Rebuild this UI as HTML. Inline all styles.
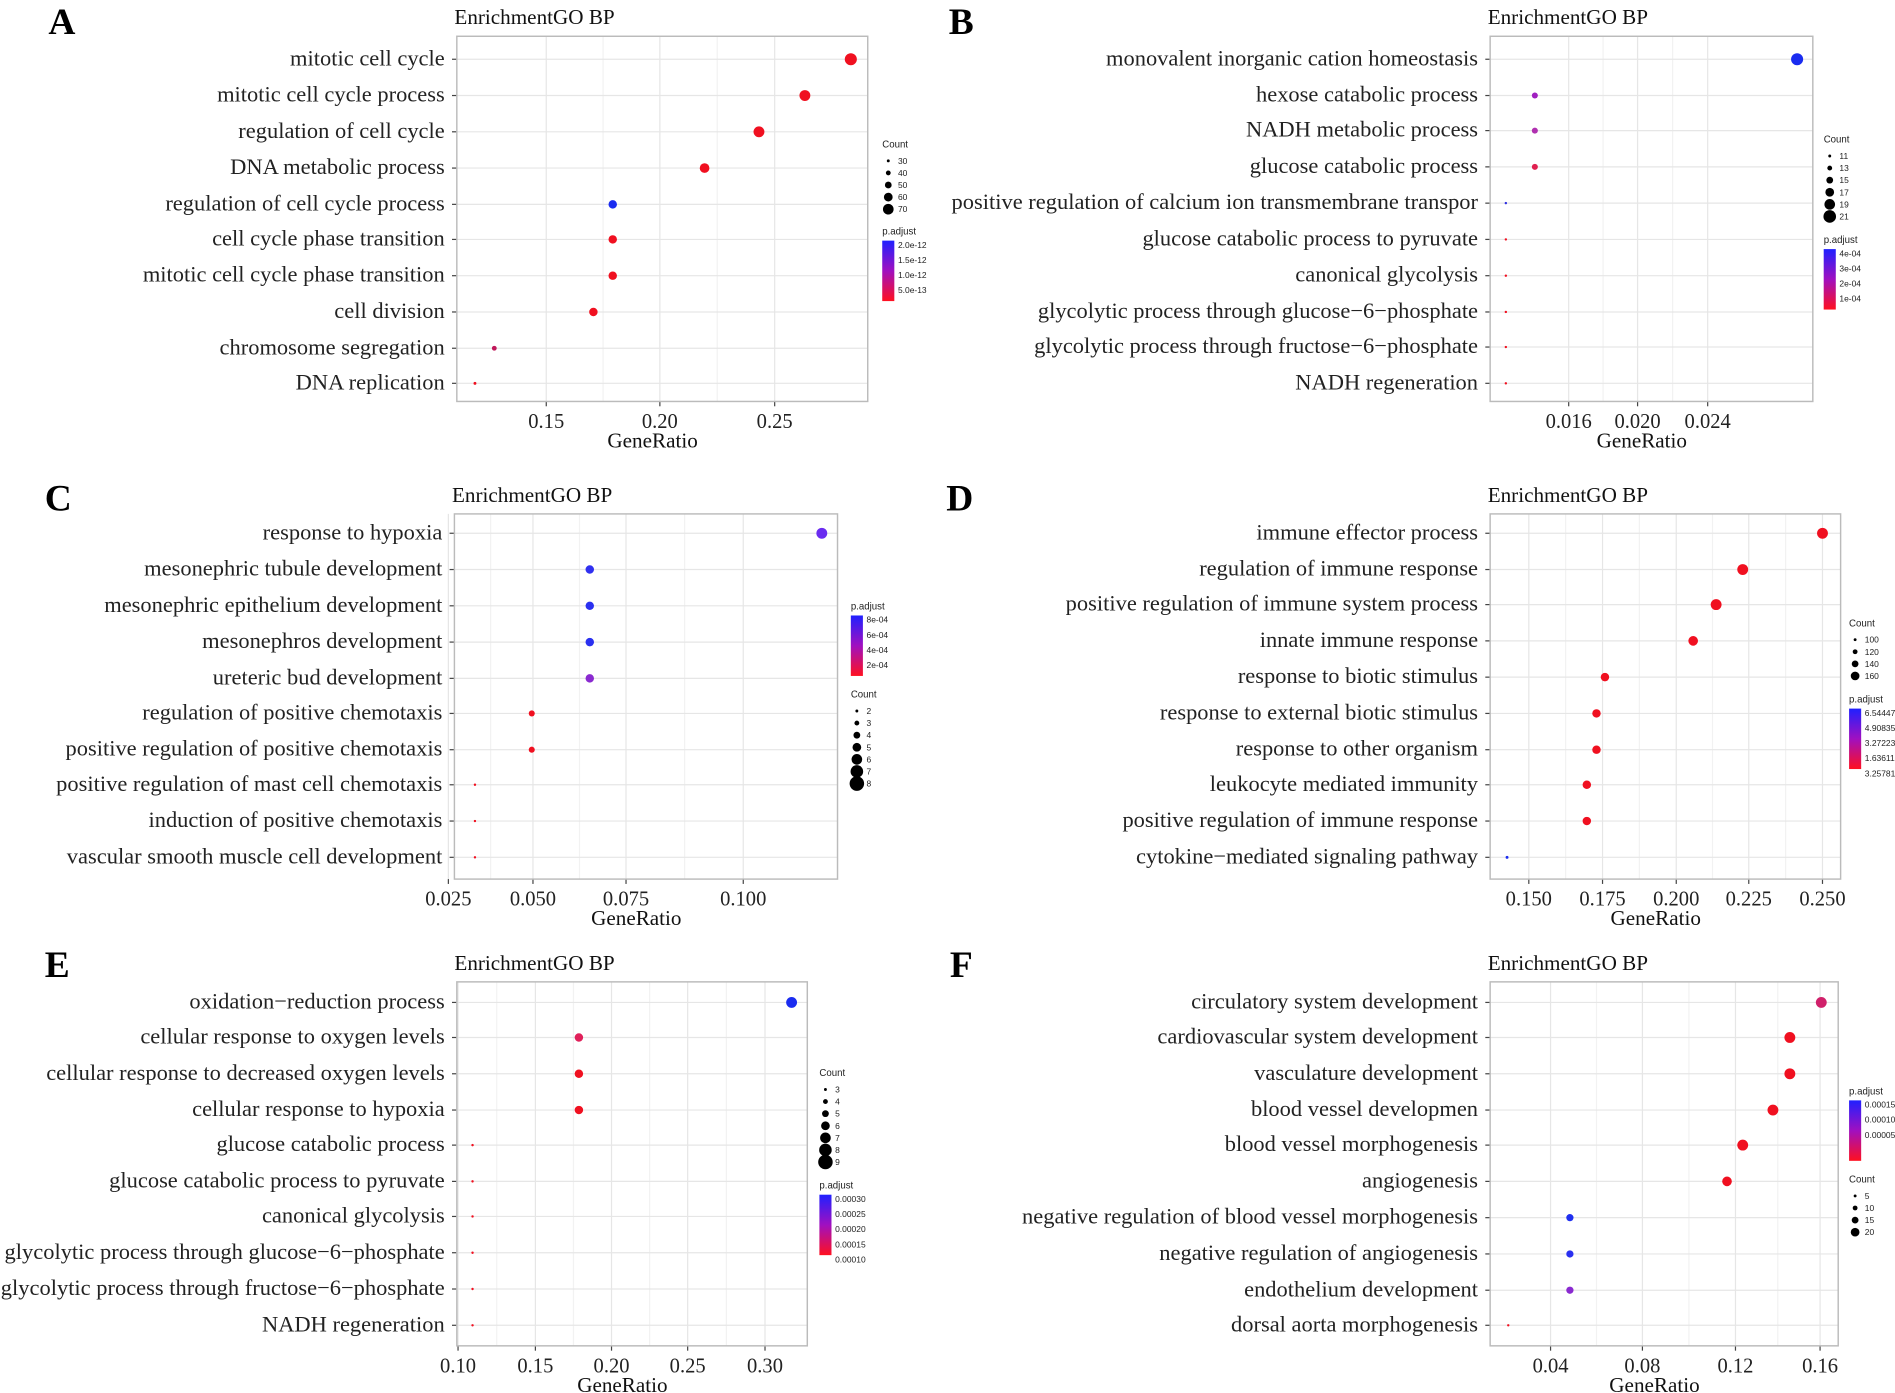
<!DOCTYPE html>
<html><head><meta charset="utf-8"><style>
html,body{margin:0;padding:0;background:#fff;width:1895px;height:1393px;overflow:hidden}
svg{display:block}
.lab{font-family:"Liberation Serif",serif;font-size:18.6px;fill:#222}
.tk{font-family:"Liberation Serif",serif;font-size:17px;fill:#222}
.tt{font-family:"Liberation Serif",serif;font-size:17.5px;fill:#111}
.big{font-family:"Liberation Serif",serif;font-size:31px;font-weight:bold;fill:#000}
.lg{font-family:"Liberation Sans",sans-serif;font-size:7px;fill:#222}
.lgt{font-family:"Liberation Sans",sans-serif;font-size:8px;fill:#222}
</style></head><body>
<svg id="s" width="1895" height="1393" viewBox="0 0 1568 1152" preserveAspectRatio="none" xmlns="http://www.w3.org/2000/svg">
<defs><linearGradient id="g" x1="0" y1="0" x2="0" y2="1"><stop offset="0" stop-color="#2020ff"/><stop offset="0.5" stop-color="#a010c0"/><stop offset="1" stop-color="#ff1020"/></linearGradient></defs>
</svg>
<script>
const S=document.getElementById('s');let h='';
function P(o){
 const [x0,x1,y0,y1]=o.box;
 h+=`<text class="tt" x="${x0-2}" y="${y0-10}">EnrichmentGO BP</text>`;
 h+=`<text class="big" x="${o.L[0]}" y="${o.L[1]}">${o.L[2]}</text>`;
 for(let i=0;i<o.ticks.length;i++){const t=o.ticks[i];h+=`<line x1="${t[0]}" x2="${t[0]}" y1="${y0}" y2="${y1}" stroke="#e6e6e6" stroke-width="1"/>`;
  if(i<o.ticks.length-1){const m=(t[0]+o.ticks[i+1][0])/2;h+=`<line x1="${m}" x2="${m}" y1="${y0}" y2="${y1}" stroke="#f2f2f2"/>`;}
  h+=`<text class="tk" x="${t[0]}" y="${y1+22}" text-anchor="middle">${t[1]}</text>`;
  h+=`<line x1="${t[0]}" x2="${t[0]}" y1="${y1}" y2="${y1+4}" stroke="#444"/>`;}
 o.rows.forEach((r,i)=>{const y=o.ry[i];h+=`<line x1="${x0}" x2="${x1}" y1="${y}" y2="${y}" stroke="#e6e6e6"/>`;
  h+=`<text class="lab" x="${x0-10}" y="${y+5}" text-anchor="end">${r}</text>`;
  h+=`<line x1="${x0-4}" x2="${x0}" y1="${y}" y2="${y}" stroke="#444"/>`;});
 h+=`<rect x="${x0}" y="${y0}" width="${x1-x0}" height="${y1-y0}" fill="none" stroke="#bbb" stroke-width="1.2"/>`;
 h+=`<text class="tt" x="${(x0+x1)/2-8}" y="${y1+38}" text-anchor="middle">GeneRatio</text>`;
 o.pts.forEach(p=>{h+=`<circle cx="${p[0]}" cy="${o.ry[p[1]]}" r="${p[2]}" fill="${p[3]||'#f01020'}"/>`;});
 const c=o.cnt,pa=o.pad;
 h+=`<text class="lgt" x="${c[0]}" y="${c[1]}">Count</text>`;
 c[2].forEach((v,i)=>{const y=c[1]+11+i*10;h+=`<circle cx="${c[0]+5}" cy="${y}" r="${1.2+i*0.8}" fill="#000"/><text class="lg" x="${c[0]+13}" y="${y+2.5}">${v}</text>`;});
 h+=`<text class="lgt" x="${pa[0]}" y="${pa[1]}">p.adjust</text><rect x="${pa[0]}" y="${pa[1]+5}" width="10" height="50" fill="url(#g)"/>`;
 pa[2].forEach((v,i)=>{h+=`<text class="lg" x="${pa[0]+13}" y="${pa[1]+11+i*12.5}">${v}</text>`;});
}
P({box:[378,718,30,332],L:[40,28,'A'],ticks:[[452,'0.15'],[546,'0.20'],[641,'0.25']],
rows:['mitotic cell cycle','mitotic cell cycle process','regulation of cell cycle','DNA metabolic process','regulation of cell cycle process','cell cycle phase transition','mitotic cell cycle phase transition','cell division','chromosome segregation','DNA replication'],
ry:[49,79,109,139,169,198,228,258,288,317],
pts:[[704,0,5],[666,1,4.5],[628,2,4.5],[583,3,4],[507,4,3.5,'#1a2cf0'],[507,5,3.5],[507,6,3.5],[491,7,3.5],[409,8,2,'#c0185a'],[393,9,1.2]],
cnt:[730,122,[30,40,50,60,70]],pad:[730,194,['2.0e-12','1.5e-12','1.0e-12','5.0e-13']]});
P({box:[1233,1500,30,332],L:[785,28,'B'],ticks:[[1298,'0.016'],[1355,'0.020'],[1413,'0.024']],
rows:['monovalent inorganic cation homeostasis','hexose catabolic process','NADH metabolic process','glucose catabolic process','positive regulation of calcium ion transmembrane transpor','glucose catabolic process to pyruvate','canonical glycolysis','glycolytic process through glucose\u22126\u2212phosphate','glycolytic process through fructose\u22126\u2212phosphate','NADH regeneration'],
ry:[49,79,108,138,168,198,228,258,287,317],
pts:[[1487,0,5,'#1a2cf0'],[1270,1,2.5,'#a020c0'],[1270,2,2.5,'#b030b0'],[1270,3,2.5,'#e02050'],[1246,4,1,'#3030e0'],[1246,5,1],[1246,6,1],[1246,7,1],[1246,8,1],[1246,9,1]],
cnt:[1509,118,[11,13,15,17,19,21]],pad:[1509,201,['4e-04','3e-04','2e-04','1e-04']]});
P({box:[376,693,425,727],L:[37,422,'C'],ticks:[[371,'0.025'],[441,'0.050'],[518,'0.075'],[615,'0.100']],
rows:['response to hypoxia','mesonephric tubule development','mesonephric epithelium development','mesonephros development','ureteric bud development','regulation of positive chemotaxis','positive regulation of positive chemotaxis','positive regulation of mast cell chemotaxis','induction of positive chemotaxis','vascular smooth muscle cell development'],
ry:[441,471,501,531,561,590,620,649,679,709],
pts:[[680,0,4.5,'#6a2cf0'],[488,1,3.5,'#3030f0'],[488,2,3.5,'#2a30f0'],[488,3,3.5,'#2a30f0'],[488,4,3.5,'#8a2ad0'],[440,5,2.5],[440,6,2.5],[393,7,1],[393,8,1],[393,9,1]],
cnt:[704,577,[2,3,4,5,6,7,8]],pad:[704,504,['8e-04','6e-04','4e-04','2e-04']]});
P({box:[1233,1523,425,727],L:[783,422,'D'],ticks:[[1265,'0.150'],[1326,'0.175'],[1387,'0.200'],[1447,'0.225'],[1508,'0.250']],
rows:['immune effector process','regulation of immune response','positive regulation of immune system process','innate immune response','response to biotic stimulus','response to external biotic stimulus','response to other organism','leukocyte mediated immunity','positive regulation of immune response','cytokine\u2212mediated signaling pathway'],
ry:[441,471,500,530,560,590,620,649,679,709],
pts:[[1508,0,4.5],[1442,1,4.5],[1420,2,4.5],[1401,3,4],[1328,4,3.5],[1321,5,3.5],[1321,6,3.5],[1313,7,3.5],[1313,8,3.5],[1247,9,1.2,'#1a2cf0']],
cnt:[1530,518,[100,120,140,160]],pad:[1530,581,['6.544472e','4.908354e','3.272236e','1.636118e','3.257814e']]});
P({box:[378,668,812,1113],L:[37,808,'E'],ticks:[[379,'0.10'],[443,'0.15'],[506,'0.20'],[569,'0.25'],[633,'0.30']],
rows:['oxidation\u2212reduction process','cellular response to oxygen levels','cellular response to decreased oxygen levels','cellular response to hypoxia','glucose catabolic process','glucose catabolic process to pyruvate','canonical glycolysis','glycolytic process through glucose\u22126\u2212phosphate','glycolytic process through fructose\u22126\u2212phosphate','NADH regeneration'],
ry:[829,858,888,918,947,977,1006,1036,1066,1096],
pts:[[655,0,4.5,'#1a2cf0'],[479,1,3.5,'#e0205a'],[479,2,3.5],[479,3,3.5],[391,4,1],[391,5,1],[391,6,1],[391,7,1],[391,8,1],[391,9,1]],
cnt:[678,890,[3,4,5,6,7,8,9]],pad:[678,983,['0.00030','0.00025','0.00020','0.00015','0.00010']]});
P({box:[1233,1521,812,1113],L:[786,808,'F'],ticks:[[1283,'0.04'],[1359,'0.08'],[1436,'0.12'],[1506,'0.16']],
rows:['circulatory system development','cardiovascular system development','vasculature development','blood vessel developmen','blood vessel morphogenesis','angiogenesis','negative regulation of blood vessel morphogenesis','negative regulation of angiogenesis','endothelium development','dorsal aorta morphogenesis'],
ry:[829,858,888,918,947,977,1007,1037,1067,1096],
pts:[[1507,0,4.5,'#d0206a'],[1481,1,4.5],[1481,2,4.5],[1467,3,4.5],[1442,4,4.5],[1429,5,4],[1299,6,3,'#2030f0'],[1299,7,3,'#2a30f0'],[1299,8,3,'#8a2ad0'],[1248,9,1]],
cnt:[1530,978,[5,10,15,20]],pad:[1530,905,['0.00015','0.00010','0.00005']]});
S.insertAdjacentHTML('beforeend',h);
</script>
</body></html>
